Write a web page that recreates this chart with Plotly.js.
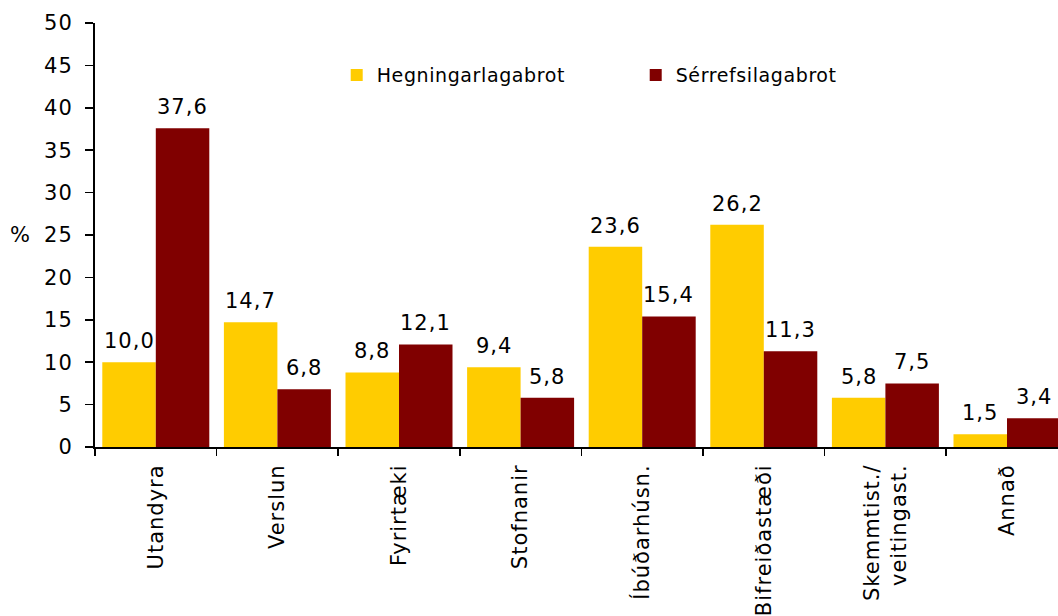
<!DOCTYPE html>
<html>
<head>
<meta charset="utf-8">
<script src="https://cdn.plot.ly/plotly-3.0.1.min.js"></script>
<style>
  html, body { margin: 0; padding: 0; background: #fff; overflow: hidden; }
  #chart { width: 1058px; height: 616px; }
  .xtick text, .ytick text { letter-spacing: 1px; }
  .annotation-text { letter-spacing: 1px; }
  .legendtext { letter-spacing: 0.6px; }
</style>
</head>
<body>
<div id="chart"></div>
<script>
const categories = ["Utandyra", "Verslun", "Fyrirtæki", "Stofnanir", "Íbúðarhúsn.", "Bifreiðastæði", "Skemmtist./<br>veitingast.", "Annað"];
const seriesNames = ["Hegningarlagabrot", "Sérrefsilagabrot"];
const hegningarlagabrot = [10.0, 14.7, 8.8, 9.4, 23.6, 26.2, 5.8, 1.5];
const serrefsilagabrot = [37.6, 6.8, 12.1, 5.8, 15.4, 11.3, 7.5, 3.4];
const yTicks = [0, 5, 10, 15, 20, 25, 30, 35, 40, 45, 50];
const colors = ["#FFCC00", "#800000"];

const FONT = "DejaVu Sans, Verdana, sans-serif";
const bargap = 0.12;
const series = [hegningarlagabrot, serrefsilagabrot];
const idx = categories.map((c, i) => i);

const traces = series.map((vals, s) => ({
  type: "bar",
  name: seriesNames[s],
  x: idx,
  y: vals,
  marker: { color: colors[s], line: { width: 0 } },
  hoverinfo: "skip"
}));

// value labels placed over each bar through the axes
const barW = (1 - bargap) / series.length;
const annotations = [];
series.forEach((vals, s) => {
  const off = -(1 - bargap) / 2 + barW * (s + 0.5);
  vals.forEach((v, i) => {
    annotations.push({
      xref: "x", yref: "y",
      x: i + off, y: v,
      text: v.toFixed(1).replace(".", ","),
      showarrow: false,
      xanchor: "center", yanchor: "bottom",
      yshift: 7,
      font: { family: FONT, size: 21, color: "#000" }
    });
  });
});
annotations.push({
  xref: "paper", yref: "paper",
  x: 0, y: 0.5, xanchor: "right", yanchor: "middle",
  xshift: -62,
  text: "%", showarrow: false,
  font: { family: FONT, size: 21, color: "#000" }
});

const bounds = idx.concat([idx.length]).map(i => i - 0.5);

const layout = {
  width: 1058, height: 616,
  margin: { l: 95, r: 0, t: 23, b: 169, pad: 0 },
  paper_bgcolor: "#fff", plot_bgcolor: "#fff",
  barmode: "group",
  bargap: bargap, bargroupgap: 0,
  showlegend: true,
  legend: {
    orientation: "h",
    x: 0.251, y: 0.922, xanchor: "left", yanchor: "top",
    entrywidth: 254, entrywidthmode: "pixels",
    itemwidth: 30,
    font: { family: FONT, size: 19, color: "#000" },
    bgcolor: "rgba(0,0,0,0)", traceorder: "normal"
  },
  xaxis: {
    type: "linear",
    range: [-0.5, -0.5 + 963 / 121.6],
    tickmode: "array",
    tickvals: idx,
    ticktext: categories,
    tickangle: -90,
    ticks: "",
    showline: true, linecolor: "#000", linewidth: 2,
    showgrid: false, zeroline: false,
    tickfont: { family: FONT, size: 21, color: "#000" },
    ticklabelstandoff: 7
  },
  xaxis2: {
    overlaying: "x", matches: "x", side: "bottom", anchor: "y",
    tickmode: "array",
    tickvals: bounds,
    ticktext: bounds.map(() => ""),
    ticks: "outside", ticklen: 8, tickwidth: 1.5, tickcolor: "#000",
    showline: false, showgrid: false, zeroline: false, showticklabels: false
  },
  yaxis: {
    range: [0, 50],
    tickmode: "array",
    tickvals: yTicks,
    ticktext: yTicks.map(String),
    ticks: "outside", ticklen: 8, tickwidth: 1.5, tickcolor: "#000",
    showline: true, linecolor: "#000", linewidth: 2,
    showgrid: false, zeroline: false,
    tickfont: { family: FONT, size: 21, color: "#000" },
    ticklabelstandoff: 8
  },
  annotations: annotations
};

traces.push({ type: "scatter", x: [], y: [], xaxis: "x2", showlegend: false, hoverinfo: "skip" });

Plotly.newPlot("chart", traces, layout, { staticPlot: true, displayModeBar: false });
</script>
</body>
</html>
